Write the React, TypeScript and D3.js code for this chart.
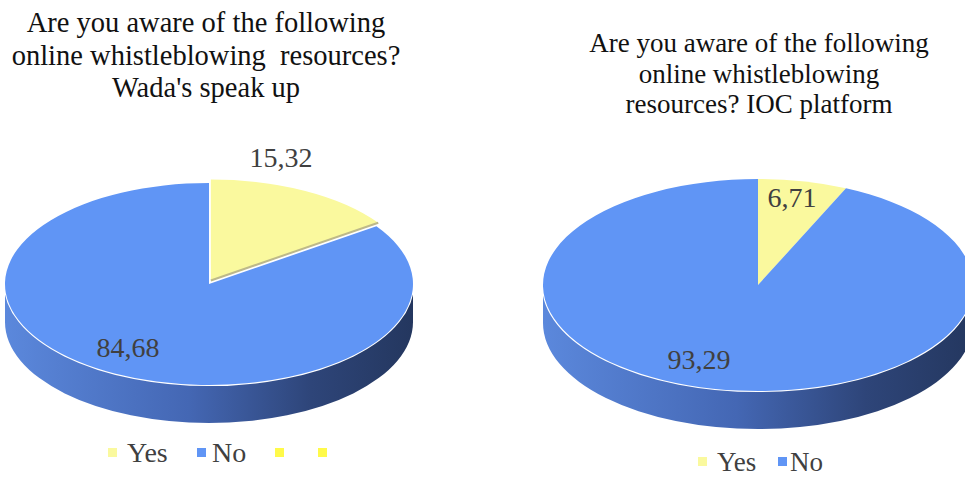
import React from "react";
import * as d3 from "d3";

const categories = ["Yes", "No"];
const wadaValues = [15.32, 84.68];
const iocValues = [6.71, 93.29];
const wadaTitle = ["Are you aware of the following", "online whistleblowing  resources?", "Wada's speak up"];
const iocTitle = ["Are you aware of the following", "online whistleblowing", "resources? IOC platform"];
const wadaLegend = ["Yes", "No", "", ""];
const iocLegend = ["Yes", "No"];

const W = 965;
const H = 478;
const TOP_BLUE = "#6095F5";
const YELLOW = "#FAF99E";
const LEG_YELLOW = "#FFFA4A";
const fmt = (v: number) => v.toFixed(2).replace(".", ",");

type PieProps = {
  id: string;
  values: number[];
  cx: number;
  cy: number;
  rx: number;
  ry: number;
  depth: number;
  labels: { x: number; y: number }[];
  fontSize: number;
  explode: number;
};

function Pie3D({ id, values, cx, cy, rx, ry, depth, labels, fontSize, explode }: PieProps) {
  const pie = d3.pie<number>().sort(null).value((d) => d);
  const arcs = pie(values);
  const arc = d3.arc<d3.PieArcDatum<number>>().innerRadius(0).outerRadius(rx);
  const k = ry / rx;
  const colors = [YELLOW, TOP_BLUE];
  const pt = (a: number, r = 1) => [rx * r * Math.sin(a), -ry * r * Math.cos(a)];
  // side (front half, visible)
  const p = d3.path();
  p.moveTo(cx - rx, cy);
  p.lineTo(cx - rx, cy + depth);
  const side = `M${cx - rx},${cy} A${rx},${ry} 0 0 0 ${cx + rx},${cy} L${cx + rx},${cy + depth} A${rx},${ry} 0 0 1 ${cx - rx},${cy + depth} Z`;
  const yes = arcs[0];
  const mid = (yes.startAngle + yes.endAngle) / 2;
  const ex = explode * Math.sin(mid);
  const ey = -explode * Math.cos(mid);
  const edge = pt(yes.endAngle);
  return (
    <g>
      <defs>
        <linearGradient id={`side-${id}`} x1="0" x2="1" y1="0" y2="0">
          <stop offset="0" stopColor="#5B88DC" />
          <stop offset="0.45" stopColor="#4467B4" />
          <stop offset="0.75" stopColor="#2E4579" />
          <stop offset="1" stopColor="#24375F" />
        </linearGradient>
      </defs>
      <path d={side} fill={`url(#side-${id})`} />
      <path
        d={`M${cx - rx},${cy} A${rx},${ry} 0 0 0 ${cx + rx},${cy}`}
        fill="none"
        stroke="#ffffff"
        strokeWidth={2.2}
      />
      {arcs.map((a, i) => (
        <path
          key={i}
          d={arc(a) || ""}
          transform={`translate(${cx + (i === 0 ? ex : 0)},${cy + (i === 0 ? ey : 0)}) scale(1,${k})`}
          fill={colors[i]}
        />
      ))}
      {explode > 0 && (
        <line
          x1={cx + ex}
          y1={cy + ey}
          x2={cx + ex + edge[0]}
          y2={cy + ey + edge[1]}
          stroke="#bdb98a"
          strokeWidth={2}
        />
      )}
      {arcs.map((a, i) => (
        <text
          key={`l${i}`}
          x={labels[i].x}
          y={labels[i].y}
          textAnchor="middle"
          fontFamily="Liberation Serif, Times New Roman, serif"
          fontSize={fontSize}
          fill="#404040"
        >
          {fmt(a.data)}
        </text>
      ))}
    </g>
  );
}

function Title({ lines, x, y0, step, fontSize }: { lines: string[]; x: number; y0: number; step: number; fontSize: number }) {
  return (
    <text
      fontFamily="Liberation Serif, Times New Roman, serif"
      fontSize={fontSize}
      fill="#111111"
      textAnchor="middle"
      style={{ whiteSpace: "pre" }}
    >
      {lines.map((l, i) => (
        <tspan key={i} x={x} y={y0 + i * step}>
          {l}
        </tspan>
      ))}
    </text>
  );
}

type LegendItem = { sq: number; color: string; text: string; tx: number };

function Legend({ items, y, fontSize }: { items: LegendItem[]; y: number; fontSize: number }) {
  return (
    <g>
      {items.map((it, i) => (
        <g key={i}>
          <rect x={it.sq} y={y - 14} width={9} height={9} fill={it.color} />
          {it.text && (
            <text
              x={it.tx}
              y={y}
              fontFamily="Liberation Serif, Times New Roman, serif"
              fontSize={fontSize}
              fill="#404040"
            >
              {it.text}
            </text>
          )}
        </g>
      ))}
    </g>
  );
}

export default function App() {
  const leftColors = [YELLOW, TOP_BLUE, LEG_YELLOW, LEG_YELLOW];
  const leftSq = [108, 197, 275, 318];
  const leftTx = [127, 212, 0, 0];
  const rightColors = [YELLOW, TOP_BLUE];
  const rightSq = [698, 778];
  const rightTx = [717, 790];
  return (
    <svg
      width={W}
      height={H}
      viewBox={`0 0 ${W} ${H}`}
      style={{ position: "absolute", left: 0, top: 0, background: "#ffffff" }}
    >
      <rect width={W} height={H} fill="#ffffff" />
      <Title lines={wadaTitle} x={206} y0={32} step={32.5} fontSize={28.5} />
      <Title lines={iocTitle} x={759} y0={52} step={30.5} fontSize={27} />
      <Pie3D
        id="wada"
        values={wadaValues}
        cx={209}
        cy={284}
        rx={204}
        ry={101}
        depth={38}
        labels={[
          { x: 281, y: 167 },
          { x: 128, y: 357 },
        ]}
        fontSize={28}
        explode={4}
      />
      <Pie3D
        id="ioc"
        values={iocValues}
        cx={758}
        cy={285}
        rx={215}
        ry={106}
        depth={38}
        labels={[
          { x: 792, y: 207 },
          { x: 699, y: 369 },
        ]}
        fontSize={28}
        explode={0}
      />
      <Legend
        items={wadaLegend.map((t, i) => ({ sq: leftSq[i], color: leftColors[i], text: t, tx: leftTx[i] }))}
        y={462}
        fontSize={28}
      />
      <Legend
        items={iocLegend.map((t, i) => ({ sq: rightSq[i], color: rightColors[i], text: t, tx: rightTx[i] }))}
        y={471}
        fontSize={27}
      />
      <desc>{categories.join(",")}</desc>
    </svg>
  );
}
